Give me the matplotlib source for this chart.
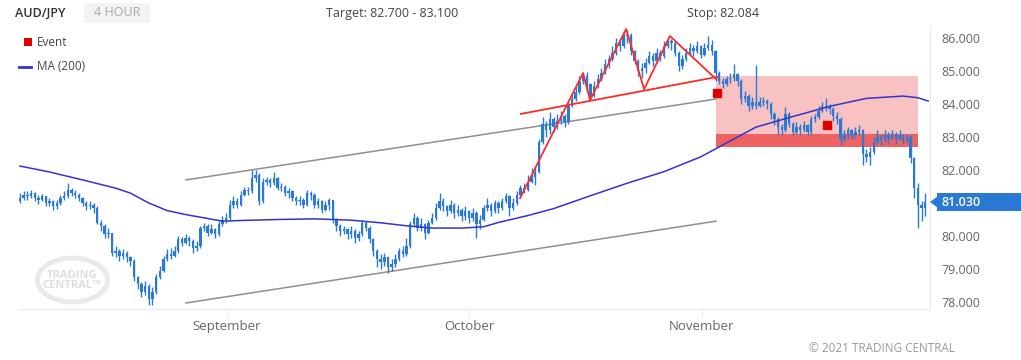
import numpy as np
import matplotlib.pyplot as plt
from matplotlib.patches import Rectangle, Ellipse, Polygon, FancyBboxPatch

plt.rcParams["font.family"] = ["Open Sans", "DejaVu Sans"]

# AUD/JPY, one bar every 8 hours (index 0 = early August 2021)
first_open = 81.05
close = [81.15, 81.25, 81.20, 81.30, 81.15, 81.10, 81.20, 81.00, 81.05, 80.90,
         81.00, 81.15, 81.20, 81.40, 81.30, 81.25, 81.15, 81.00, 80.90, 80.95,
         80.85, 80.40, 80.30, 80.05, 80.10, 79.50, 79.55, 79.40, 79.50, 79.35,
         79.25, 78.75, 78.55, 78.30, 78.50, 78.10, 78.30, 78.75, 78.95, 79.30,
         79.45, 79.40, 79.55, 79.90, 79.80, 79.95, 79.85, 79.65, 79.70, 80.25,
         80.30, 80.10, 80.20, 80.05, 80.35, 80.50, 80.55, 80.95, 81.05, 80.95,
         81.25, 81.40, 81.35, 81.75, 81.85, 81.05, 81.65, 81.70, 81.60, 81.75,
         81.45, 81.50, 81.30, 81.35, 81.15, 81.05, 81.10, 80.95, 81.30, 81.25,
         80.95, 81.05, 80.80, 80.95, 81.10, 80.50, 80.30, 80.15, 80.20, 80.05,
         80.15, 79.95, 80.05, 80.40, 80.25, 79.90, 79.55, 79.30, 79.20, 79.35,
         79.05, 79.15, 79.30, 79.55, 79.45, 79.70, 80.35, 80.55, 80.25, 80.35,
         80.10, 80.40, 80.55, 80.85, 81.05, 80.90, 80.75, 80.95, 80.70, 80.80,
         80.60, 80.75, 80.55, 80.70, 80.35, 80.50, 80.85, 80.95, 80.75, 81.00,
         80.85, 81.05, 81.20, 80.85, 81.00, 81.25, 81.45, 81.40, 81.65, 81.80,
         81.95, 82.85, 83.40, 83.20, 83.55, 83.30, 83.50, 83.65, 83.45, 83.95,
         84.15, 84.35, 84.70, 84.85, 84.60, 84.25, 84.55, 84.75, 84.95, 85.20,
         85.35, 85.55, 85.85, 85.75, 86.05, 86.10, 85.60, 85.30, 85.00, 85.10,
         85.25, 85.45, 85.30, 85.55, 85.45, 85.75, 85.90, 85.85, 85.55, 85.15,
         85.35, 85.55, 85.70, 85.60, 85.75, 85.50, 85.70, 85.80, 85.60, 84.95,
         84.70, 84.60, 84.75, 84.80, 84.90, 84.70, 84.15, 84.25, 83.95, 84.05,
         83.95, 84.05, 84.10, 84.00, 83.70, 83.55, 83.30, 83.20, 83.70, 83.40,
         83.15, 83.30, 83.20, 83.35, 83.15, 83.55, 83.60, 83.80, 83.95, 83.90,
         83.85, 83.65, 83.55, 82.95, 83.05, 83.20, 83.05, 83.15, 83.20, 82.50,
         82.40, 82.55, 82.85, 83.00, 82.90, 83.05, 82.95, 83.10, 82.95, 83.05,
         82.90, 83.00, 82.35, 81.45, 80.95, 80.85, 81.03]
high = [81.30, 81.35, 81.35, 81.38, 81.32, 81.25, 81.28, 81.22, 81.15, 81.10,
        81.08, 81.25, 81.35, 81.60, 81.45, 81.40, 81.30, 81.18, 81.05, 81.05,
        81.00, 80.90, 80.50, 80.35, 80.25, 80.10, 79.70, 79.60, 79.62, 79.55,
        79.40, 79.30, 78.80, 78.60, 78.65, 78.55, 78.45, 78.85, 79.10, 79.40,
        79.60, 79.65, 79.70, 80.00, 79.98, 80.05, 80.00, 79.90, 79.85, 80.30,
        80.40, 80.35, 80.35, 80.25, 80.45, 80.60, 80.70, 81.10, 81.20, 81.15,
        81.35, 81.50, 81.50, 82.00, 82.00, 81.90, 81.75, 81.80, 81.75, 81.95,
        81.80, 81.60, 81.55, 81.45, 81.40, 81.20, 81.20, 81.15, 81.40, 81.35,
        81.30, 81.15, 81.10, 81.05, 81.15, 81.10, 80.55, 80.35, 80.30, 80.25,
        80.30, 80.20, 80.15, 80.50, 80.45, 80.30, 79.95, 79.60, 79.45, 79.50,
        79.40, 79.30, 79.45, 79.65, 79.70, 79.95, 80.45, 80.70, 80.60, 80.55,
        80.40, 80.50, 80.70, 81.00, 81.30, 81.15, 80.95, 81.10, 81.00, 80.95,
        80.85, 80.90, 80.80, 80.85, 80.75, 80.65, 80.95, 81.15, 81.00, 81.10,
        81.05, 81.15, 81.30, 81.25, 81.15, 81.35, 81.55, 81.60, 81.85, 82.05,
        82.05, 82.95, 83.60, 83.50, 83.75, 83.60, 83.70, 83.80, 83.70, 84.05,
        84.30, 84.55, 84.85, 84.95, 84.98, 84.65, 84.70, 84.90, 85.10, 85.35,
        85.50, 85.75, 86.00, 85.95, 86.20, 86.25, 86.15, 85.65, 85.35, 85.25,
        85.40, 85.60, 85.55, 85.70, 85.65, 85.90, 86.00, 85.98, 85.90, 85.60,
        85.50, 85.70, 85.85, 85.80, 85.90, 85.80, 85.85, 86.05, 85.95, 85.65,
        85.00, 84.80, 84.85, 84.95, 85.20, 84.95, 84.75, 84.40, 84.30, 84.20,
        85.18, 84.20, 84.20, 84.15, 84.05, 83.75, 83.60, 83.40, 83.90, 83.75,
        83.45, 83.45, 83.40, 83.50, 83.40, 83.65, 83.70, 83.95, 84.05, 84.18,
        84.00, 83.90, 83.75, 83.60, 83.20, 83.30, 83.25, 83.30, 83.35, 83.25,
        82.65, 82.70, 83.00, 83.20, 83.10, 83.20, 83.15, 83.20, 83.15, 83.20,
        83.10, 83.10, 83.05, 82.40, 81.60, 81.05, 81.30]
low = [81.00, 81.10, 81.10, 81.15, 81.05, 80.98, 81.05, 80.90, 80.92, 80.80,
       80.82, 80.95, 81.10, 81.15, 81.20, 81.15, 81.05, 80.90, 80.80, 80.82,
       80.70, 80.35, 80.15, 79.95, 79.95, 79.40, 79.35, 79.25, 79.30, 79.20,
       79.10, 78.65, 78.40, 78.15, 78.20, 77.90, 77.90, 78.25, 78.70, 78.90,
       79.25, 79.30, 79.35, 79.50, 79.70, 79.75, 79.70, 79.50, 79.55, 79.65,
       80.15, 80.00, 80.05, 79.95, 80.00, 80.30, 80.40, 80.50, 80.85, 80.85,
       80.90, 81.20, 81.25, 81.30, 81.65, 80.95, 81.00, 81.55, 81.50, 81.55,
       81.40, 81.35, 81.20, 81.15, 81.05, 80.95, 80.95, 80.85, 80.90, 81.10,
       80.85, 80.85, 80.70, 80.75, 80.80, 80.40, 80.15, 80.00, 80.05, 79.90,
       79.95, 79.80, 79.85, 80.00, 80.15, 79.80, 79.40, 79.05, 79.00, 79.10,
       78.88, 78.95, 79.05, 79.25, 79.35, 79.40, 79.65, 80.30, 80.15, 80.15,
       79.90, 80.05, 80.35, 80.50, 80.80, 80.75, 80.60, 80.70, 80.55, 80.60,
       80.45, 80.50, 80.40, 80.45, 79.95, 80.20, 80.45, 80.75, 80.60, 80.70,
       80.70, 80.80, 81.00, 80.60, 80.80, 80.95, 81.20, 81.30, 81.35, 81.60,
       81.55, 81.90, 82.80, 83.00, 83.10, 83.15, 83.25, 83.40, 83.30, 83.40,
       83.90, 84.10, 84.30, 84.60, 84.35, 84.12, 84.20, 84.50, 84.70, 84.90,
       85.10, 85.30, 85.50, 85.60, 85.70, 85.85, 85.50, 85.20, 84.85, 84.80,
       84.95, 85.20, 85.15, 85.25, 85.30, 85.40, 85.70, 85.65, 85.45, 85.00,
       85.05, 85.30, 85.50, 85.45, 85.55, 85.40, 85.45, 85.65, 85.50, 84.70,
       84.60, 84.50, 84.55, 84.65, 84.70, 84.55, 84.00, 84.05, 83.80, 83.85,
       83.85, 83.90, 83.95, 83.85, 83.55, 83.35, 83.10, 83.05, 83.15, 83.30,
       83.05, 83.10, 83.05, 83.15, 83.05, 83.10, 83.45, 83.55, 83.75, 83.80,
       83.70, 83.50, 83.40, 82.75, 82.85, 82.95, 82.95, 83.00, 83.05, 82.15,
       82.25, 82.15, 82.50, 82.80, 82.75, 82.85, 82.80, 82.90, 82.80, 82.90,
       82.80, 82.85, 82.20, 81.15, 80.24, 80.45, 80.60]

# MA(200)
ma_idx = [0, 8, 17, 26, 30, 35, 40, 45, 50, 55, 60, 70, 80, 90, 98, 105, 112,
          120, 126, 130, 138, 145, 155, 165, 175, 185, 190, 200, 210, 220, 230,
          240, 244, 246.8]
ma_val = [82.12, 81.94, 81.70, 81.45, 81.30, 81.00, 80.77, 80.65, 80.55, 80.45,
          80.47, 80.50, 80.52, 80.48, 80.40, 80.31, 80.24, 80.24, 80.28, 80.41,
          80.62, 80.83, 81.22, 81.60, 81.95, 82.40, 82.70, 83.30, 83.62, 83.93,
          84.17, 84.24, 84.19, 84.09]

month_pos = [56.25, 122.0, 185.3]
month_labels = ["September", "October", "November"]
# 81.000 is hidden behind the last-price tag in the original
price_ticks = [78, 79, 80, 82, 83, 84, 85, 86]

channel_idx = [45.1, 189.1]
channel_upper = [81.70, 84.15]
channel_lower = [77.97, 80.45]

neck_idx = [136.1, 189.4]
neck_val = [83.70, 84.82]
zig_idx = [135.9, 153.0, 154.9, 164.7, 169.6, 176.6, 189.1]
zig_val = [81.15, 84.94, 84.12, 86.27, 84.45, 86.06, 84.76]

event_idx = [189.3, 219.3]
event_val = [84.32, 83.35]

zone_start, zone_end = 189.1, 244.0
zone_top = 84.85
target_lo, target_hi = 82.70, 83.10
stop = 82.084

blue = "#2a7ad5"
ma_blue = "#3434cc"

W, H = 1021, 360
fig = plt.figure(figsize=(W / 100, H / 100), dpi=100)
ax = fig.add_axes([19 / W, 1 - 309 / H, (930 - 19) / W, (309 - 25) / H])
ax.set_xlim(-0.272, 247.28)
ax.set_ylim(77.788, 86.394)

# trade zone
ax.add_patch(Rectangle((zone_start, target_lo), zone_end - zone_start,
                       zone_top - target_lo, color="#f7c2c1", lw=0, zorder=1))
ax.add_patch(Rectangle((zone_start, target_lo), zone_end - zone_start,
                       target_hi - target_lo, color="#ef6262", lw=0, zorder=1))

# channel
ax.plot(channel_idx, channel_upper, color="#8f8f8f", lw=1.1, zorder=2)
ax.plot(channel_idx, channel_lower, color="#8f8f8f", lw=1.1, zorder=2)

# bars
opens = np.array([first_open] + close[:-1])
c = np.array(close)
x = np.arange(len(close))
ax.vlines(x, low, high, color=blue, lw=1, zorder=3)
body_lo = np.minimum(opens, c)
body_h = np.maximum(np.abs(c - opens), 0.03)
ax.bar(x, body_h, bottom=body_lo, width=0.65, color=blue, lw=0, zorder=3)

# moving average
ax.plot(ma_idx, ma_val, color=ma_blue, lw=1.1, zorder=4)

# pattern lines
ax.plot(neck_idx, neck_val, color="#ff2a2a", lw=1.3, zorder=5)
ax.plot(zig_idx, zig_val, color="#ff2a2a", lw=1.3, zorder=5)

ax.plot(event_idx, event_val, "s", color="#e00000", ms=6, zorder=6)

# axes styling
for s in ["top", "left"]:
    ax.spines[s].set_visible(False)
for s in ["bottom", "right"]:
    ax.spines[s].set_color("#ebebeb")
ax.set_xticks(month_pos)
ax.set_xticklabels(month_labels)
ax.tick_params(axis="x", length=6, color="#ebebeb", labelcolor="#666666",
               labelsize=9.5, pad=2)
ax.yaxis.tick_right()
ax.set_yticks(price_ticks)
ax.set_yticklabels([f"{p:.3f}" for p in price_ticks])
ax.tick_params(axis="y", length=0, labelcolor="#666666", labelsize=9, pad=8)


def px(xp, yp):
    return xp / W, 1 - yp / H


# last price tag
last = close[-1]
ly = 38 + (86 - last) * 33
fig.add_artist(Rectangle(px(937, ly + 9), 84 / W, 18 / H, transform=fig.transFigure,
                         color=blue, lw=0))
fig.add_artist(Polygon([px(930, ly), px(938, ly - 6), px(938, ly + 6)],
                       transform=fig.transFigure, color=blue, lw=0))
fig.text(*px(941, ly), f"{last:.3f}", color="white", fontsize=9,
         fontweight="semibold", va="center", ha="left")

# header
fig.text(*px(15, 13), "AUD/JPY", color="#333333", fontsize=9, fontweight="semibold",
         va="center")
fig.add_artist(FancyBboxPatch(px(84, 23), 66 / W, 20 / H, transform=fig.transFigure,
                              boxstyle="round,pad=0,rounding_size=0.004",
                              color="#f3f3f3", lw=0))
fig.text(*px(117, 13), "4 HOUR", color="#aaaaaa", fontsize=9, va="center",
         ha="center")
fig.text(*px(326, 13), f"Target: {target_lo:.3f} - {target_hi:.3f}",
         color="#444444", fontsize=9, va="center")
fig.text(*px(687, 13), f"Stop: {stop:.3f}", color="#444444", fontsize=9,
         va="center")

# legend
fig.add_artist(Rectangle(px(24, 46), 8 / W, 8 / H, transform=fig.transFigure,
                         color="#e00000", lw=0))
fig.text(*px(37, 42), "Event", color="#444444", fontsize=8.5, va="center")
fig.add_artist(plt.Line2D([19 / W, 31 / W], [1 - 67 / H, 1 - 67 / H],
                          transform=fig.transFigure, color=ma_blue, lw=2))
fig.text(*px(37, 67), "MA (200)", color="#444444", fontsize=8.5, va="center")

# watermark
fig.add_artist(Ellipse(px(72.5, 280), 70 / W, 44 / H, transform=fig.transFigure,
                       fill=False, edgecolor="#e9e9e9", lw=3.5))
fig.text(*px(72, 276), "TRADING", color="#dedede", fontsize=8, fontweight="bold",
         ha="center", va="center")
fig.text(*px(72, 286), "CENTRAL\u2122", color="#dedede", fontsize=8,
         fontweight="bold", ha="center", va="center")

# footer
fig.text(*px(955, 348), "\u00a9 2021 TRADING CENTRAL", color="#999999",
         fontsize=8.5, ha="right", va="center")

fig.savefig("out.png", dpi=100)
